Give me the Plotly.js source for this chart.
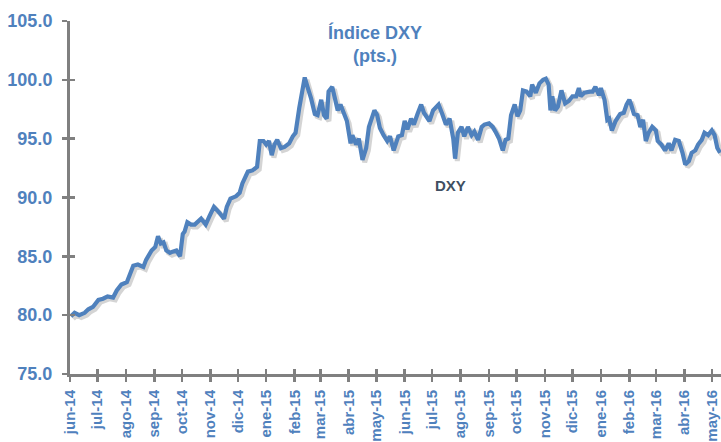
<!DOCTYPE html>
<html>
<head>
<meta charset="utf-8">
<script src="https://cdn.plot.ly/plotly-3.0.1.min.js"></script>
<style>html,body{margin:0;padding:0;background:#fff;overflow:hidden}#chart{width:721px;height:442px}</style>
</head>
<body>
<div id="chart"></div>
<script>
const dates = [
'2014-06-02','2014-06-06','2014-06-11','2014-06-17','2014-06-21','2014-06-26','2014-07-02','2014-07-07','2014-07-12','2014-07-18',
'2014-07-22','2014-07-27','2014-08-02','2014-08-05','2014-08-09','2014-08-14','2014-08-20','2014-08-23','2014-08-29','2014-09-02',
'2014-09-05','2014-09-08','2014-09-11','2014-09-14','2014-09-18','2014-09-21','2014-09-25','2014-09-29','2014-10-02','2014-10-04',
'2014-10-07','2014-10-11','2014-10-15','2014-10-22','2014-10-27','2014-10-31','2014-11-05','2014-11-11','2014-11-16','2014-11-19',
'2014-11-23','2014-11-29','2014-12-03','2014-12-06','2014-12-12','2014-12-17','2014-12-22','2014-12-25','2014-12-29','2015-01-01',
'2015-01-04','2015-01-07','2015-01-10','2015-01-13','2015-01-17','2015-01-21','2015-01-26','2015-01-30','2015-02-02','2015-02-06',
'2015-02-10','2015-02-12','2015-02-15','2015-02-19','2015-02-23','2015-02-26','2015-03-02','2015-03-05','2015-03-08','2015-03-10',
'2015-03-14','2015-03-17','2015-03-20','2015-03-23','2015-03-27','2015-03-30','2015-04-03','2015-04-05','2015-04-09','2015-04-12',
'2015-04-16','2015-04-20','2015-04-23','2015-04-27','2015-04-29','2015-05-02','2015-05-05','2015-05-09','2015-05-13','2015-05-16',
'2015-05-20','2015-05-25','2015-05-29','2015-06-01','2015-06-04','2015-06-08','2015-06-11','2015-06-15','2015-06-19','2015-06-22',
'2015-06-28','2015-07-02','2015-07-05','2015-07-08','2015-07-12','2015-07-16','2015-07-20','2015-07-24','2015-07-26','2015-07-29',
'2015-08-02','2015-08-05','2015-08-09','2015-08-13','2015-08-16','2015-08-20','2015-08-24','2015-08-27','2015-09-01','2015-09-05',
'2015-09-08','2015-09-12','2015-09-16','2015-09-19','2015-09-22','2015-09-25','2015-09-29','2015-10-02','2015-10-05','2015-10-08',
'2015-10-12','2015-10-16','2015-10-18','2015-10-22','2015-10-26','2015-10-30','2015-11-02','2015-11-05','2015-11-07','2015-11-09',
'2015-11-12','2015-11-15','2015-11-19','2015-11-23','2015-11-27','2015-12-01','2015-12-05','2015-12-08','2015-12-10','2015-12-14',
'2015-12-20','2015-12-23','2015-12-26','2015-12-30','2016-01-01','2016-01-05','2016-01-08','2016-01-10','2016-01-13','2016-01-17',
'2016-01-22','2016-01-26','2016-01-29','2016-02-01','2016-02-03','2016-02-06','2016-02-10','2016-02-13','2016-02-16','2016-02-19',
'2016-02-22','2016-02-26','2016-03-01','2016-03-03','2016-03-07','2016-03-11','2016-03-15','2016-03-18','2016-03-22','2016-03-26',
'2016-03-30','2016-04-02','2016-04-06','2016-04-09','2016-04-13','2016-04-16','2016-04-20','2016-04-23','2016-04-27','2016-05-01',
'2016-05-04','2016-05-07','2016-05-10'
];
const dxy = [
79.9,80.2,80.0,80.2,80.5,80.7,81.3,81.4,81.6,81.5,
82.1,82.6,82.8,83.4,84.2,84.3,84.1,84.7,85.5,85.8,
86.7,86.1,86.2,85.5,85.3,85.4,85.5,85.0,86.9,87.1,
87.9,87.7,87.7,88.2,87.7,88.4,89.2,88.7,88.2,89.2,
89.9,90.1,90.4,91.2,92.2,92.3,92.6,94.8,94.8,94.5,
94.8,93.6,94.5,94.9,94.2,94.3,94.6,95.2,95.5,97.6,
99.6,100.2,99.4,98.4,97.1,97.0,98.3,97.0,96.7,99.0,
99.4,98.4,97.4,97.9,97.0,96.5,94.6,95.3,94.5,95.0,
93.2,94.2,96.0,97.0,97.4,97.0,95.9,95.3,94.8,95.2,
94.0,95.2,95.3,96.5,95.8,96.7,96.2,97.1,97.9,97.2,
96.5,97.4,97.6,97.9,97.1,96.2,96.7,95.0,93.3,95.5,
96.0,95.2,96.0,95.3,95.6,94.9,96.0,96.2,96.3,96.0,
95.6,95.0,94.0,94.9,95.0,97.0,97.9,96.9,97.4,99.1,
99.0,98.6,99.6,98.9,99.7,100.0,100.1,99.6,97.4,98.6,
97.4,97.7,99.1,98.0,98.2,98.6,98.6,99.3,98.6,98.9,
99.0,99.0,99.4,98.7,99.3,98.3,96.6,96.7,95.7,96.5,
97.1,97.2,97.9,98.3,97.9,97.1,97.0,96.0,96.6,94.8,
95.5,96.0,95.7,94.8,94.5,94.0,94.6,94.0,94.9,94.8,
93.8,92.8,93.1,93.8,94.0,94.5,94.9,95.5,95.3,95.7,
95.3,94.2,93.8
];
const monthTicks = ['2014-06-01','2014-07-01','2014-08-01','2014-09-01','2014-10-01','2014-11-01','2014-12-01',
'2015-01-01','2015-02-01','2015-03-01','2015-04-01','2015-05-01','2015-06-01','2015-07-01','2015-08-01','2015-09-01',
'2015-10-01','2015-11-01','2015-12-01','2016-01-01','2016-02-01','2016-03-01','2016-04-01','2016-05-01'];
const monthLabels = ['jun-14','jul-14','ago-14','sep-14','oct-14','nov-14','dic-14',
'ene-15','feb-15','mar-15','abr-15','may-15','jun-15','jul-15','ago-15','sep-15',
'oct-15','nov-15','dic-15','ene-16','feb-16','mar-16','abr-16','may-16'];
const yTicks = [75,80,85,90,95,100,105];

const xRange = ['2014-06-01','2016-05-11'];
const yRange = [75,105];

function shiftDate(s, days){
  const d = new Date(s + 'T00:00:00Z');
  return new Date(d.getTime() + days*86400000).toISOString().slice(0,19).replace('T',' ');
}
const pxPerDay = 651 / ((Date.parse(xRange[1]) - Date.parse(xRange[0]))/86400000);
const pxPerUnit = 353 / (yRange[1]-yRange[0]);
const sx = 2.2/pxPerDay, sy = 2.4/pxPerUnit;

const blue = '#4F81BD';
const axGray = '#808080';
const tickFontX = {family:'Liberation Sans, Arial, sans-serif', size:15, color:blue, weight:'bold'};
const tickFontY = {family:'Liberation Sans, Arial, sans-serif', size:18, color:blue, weight:'bold'};

const shadow = {x:dates, y:dxy, type:'scatter', mode:'lines', xaxis:'x', yaxis:'y',
  line:{color:'rgba(0,0,0,0.17)', width:5}, hoverinfo:'skip', showlegend:false};
const main = {x:dates, y:dxy, type:'scatter', mode:'lines', xaxis:'x2', yaxis:'y2', name:'DXY',
  line:{color:blue, width:4.2}, showlegend:false};
const inner = {x:dates, y:dxy, type:'scatter', mode:'lines', xaxis:'x3', yaxis:'y3',
  line:{color:'rgba(0,0,0,0)', width:0}, hoverinfo:'skip', showlegend:false};

const hidden = {visible:true, showline:false, showgrid:false, zeroline:false, showticklabels:false, ticks:''};

const layout = {
  width:721, height:442,
  margin:{l:70, r:0, t:21, b:68},
  paper_bgcolor:'#fff', plot_bgcolor:'rgba(0,0,0,0)',
  showlegend:false,
  title:{text:'Índice DXY<br>(pts.)', x:0.52, xanchor:'center', xref:'container', y:0.912, yanchor:'top', yref:'container',
    font:{family:'Liberation Sans, Arial, sans-serif', size:18, color:blue, weight:'bold'}},
  xaxis:Object.assign({type:'date', range:[shiftDate(xRange[0],-sx), shiftDate(xRange[1],-sx)]}, hidden),
  yaxis:Object.assign({range:[yRange[0]+sy, yRange[1]+sy]}, hidden),
  xaxis2:{type:'date', overlaying:'x', anchor:'y2', range:xRange, tickmode:'array', tickvals:monthTicks, ticktext:monthLabels,
    tickangle:-90, tickfont:tickFontX, showline:true, linecolor:axGray, linewidth:3, ticks:'outside', ticklen:5, tickwidth:2.5,
    tickcolor:axGray, showgrid:false, zeroline:false, ticklabelstandoff:2},
  yaxis2:{overlaying:'y', anchor:'x2', range:yRange, tickmode:'array', tickvals:yTicks, tickformat:'.1f', tickfont:tickFontY,
    showline:true, linecolor:axGray, linewidth:3, ticks:'outside', ticklen:5, tickwidth:2.5, tickcolor:axGray,
    showgrid:false, zeroline:false, ticklabelstandoff:6},
  xaxis3:{type:'date', overlaying:'x', anchor:'y3', range:xRange, tickmode:'array', tickvals:monthTicks, showticklabels:false,
    showline:false, ticks:'inside', ticklen:5, tickwidth:2.5, tickcolor:axGray, showgrid:false, zeroline:false},
  yaxis3:{overlaying:'y', anchor:'x3', range:yRange, tickmode:'array', tickvals:yTicks, showticklabels:false,
    showline:false, ticks:'inside', ticklen:5, tickwidth:2.5, tickcolor:axGray, showgrid:false, zeroline:false},
  annotations:[{x:'2015-07-21', y:91.0, xref:'x2', yref:'y2', text:'DXY', showarrow:false,
    font:{family:'Liberation Sans, Arial, sans-serif', size:15, color:'#3F4F62', weight:'bold'}}]
};

Plotly.newPlot('chart', [shadow, main, inner], layout, {displayModeBar:false, staticPlot:true});
</script>
</body>
</html>
